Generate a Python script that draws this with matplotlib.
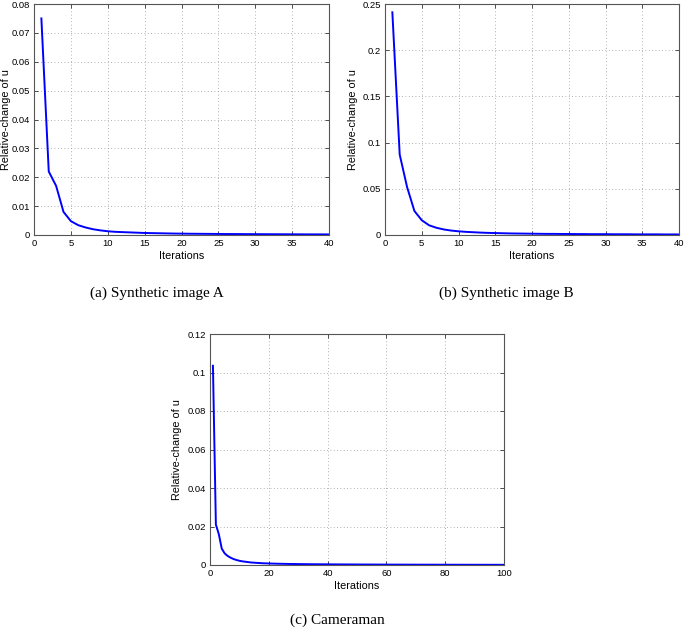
import matplotlib.pyplot as plt

# relative change of u per iteration
iters_a = list(range(1, 41))
change_a = [0.075, 0.022, 0.017, 0.0080, 0.0048, 0.0034, 0.0026, 0.0020, 0.0016, 0.0013,
            0.0011, 0.0010, 0.0009, 0.0008, 0.0007, 0.00065, 0.0006, 0.00055, 0.0005, 0.00047,
            0.00044, 0.00042, 0.0004, 0.00038, 0.00036, 0.00034, 0.00033, 0.00032, 0.0003, 0.00029,
            0.00028, 0.00027, 0.00026, 0.00025, 0.00024, 0.00023, 0.00022, 0.00022, 0.00021, 0.0002]

iters_b = list(range(1, 41))
change_b = [0.241, 0.087, 0.052, 0.026, 0.016, 0.0105, 0.0078, 0.0060, 0.0048, 0.0040,
            0.0034, 0.0030, 0.0026, 0.0023, 0.0021, 0.0019, 0.0017, 0.0016, 0.0015, 0.0014,
            0.0013, 0.0012, 0.0012, 0.0011, 0.0011, 0.0010, 0.0010, 0.0009, 0.0009, 0.0009,
            0.0008, 0.0008, 0.0008, 0.0007, 0.0007, 0.0007, 0.0007, 0.0006, 0.0006, 0.0006]

iters_c = list(range(1, 101))
change_c = [0.1035, 0.021, 0.016, 0.0085, 0.0060, 0.0047, 0.0038, 0.0031, 0.0026, 0.0022,
            0.0019, 0.0017, 0.0015, 0.0013, 0.0012, 0.0011, 0.0010, 0.0009, 0.00085, 0.0008,
            0.00075, 0.0007, 0.00066, 0.00063, 0.0006, 0.00057, 0.00054, 0.00052, 0.0005, 0.00048,
            0.00046, 0.00044, 0.00043, 0.00041, 0.0004, 0.00039, 0.00038, 0.00037, 0.00036, 0.00035,
            0.00034, 0.00033, 0.00032, 0.00031, 0.0003, 0.0003, 0.00029, 0.00028, 0.00028, 0.00027,
            0.00026, 0.00026, 0.00025, 0.00025, 0.00024, 0.00024, 0.00023, 0.00023, 0.00022, 0.00022,
            0.00021, 0.00021, 0.0002, 0.0002, 0.0002, 0.00019, 0.00019, 0.00018, 0.00018, 0.00018,
            0.00017, 0.00017, 0.00017, 0.00016, 0.00016, 0.00016, 0.00015, 0.00015, 0.00015, 0.00015,
            0.00014, 0.00014, 0.00014, 0.00014, 0.00013, 0.00013, 0.00013, 0.00013, 0.00012, 0.00012,
            0.00012, 0.00012, 0.00012, 0.00011, 0.00011, 0.00011, 0.00011, 0.00011, 0.0001, 0.0001]

W, H = 685, 629

# (data, axes box in pixels [left, top, right, bottom], limits, ticks, caption, caption centre px, ylabel x)
panels = [
    (iters_a, change_a, (34, 4, 329, 235), (0, 40), (0, 0.08),
     [0, 5, 10, 15, 20, 25, 30, 35, 40], [0, 0.01, 0.02, 0.03, 0.04, 0.05, 0.06, 0.07, 0.08],
     ["0", "0.01", "0.02", "0.03", "0.04", "0.05", "0.06", "0.07", "0.08"],
     "(a) Synthetic image A", (157, 293), -0.077),
    (iters_b, change_b, (385, 4, 679, 235), (0, 40), (0, 0.25),
     [0, 5, 10, 15, 20, 25, 30, 35, 40], [0, 0.05, 0.1, 0.15, 0.2, 0.25],
     ["0", "0.05", "0.1", "0.15", "0.2", "0.25"],
     "(b) Synthetic image B", (506, 293), -0.092),
    (iters_c, change_c, (210, 334, 504, 565), (0, 100), (0, 0.12),
     [0, 20, 40, 60, 80, 100], [0, 0.02, 0.04, 0.06, 0.08, 0.1, 0.12],
     ["0", "0.02", "0.04", "0.06", "0.08", "0.1", "0.12"],
     "(c) Cameraman", (337, 620), -0.095),
]

plt.rcParams['font.family'] = ['Liberation Sans', 'DejaVu Sans']
fig = plt.figure(figsize=(W / 100, H / 100), dpi=100)

for x, y, box, xlim, ylim, xt, yt, ytl, caption, cap_xy, ylab_x in panels:
    l, t, r, b = box
    ax = fig.add_axes([l / W, 1 - b / H, (r - l) / W, (b - t) / H])
    ax.plot(x, y, color='#0000ff', linewidth=1.4)
    ax.set_xlim(*xlim)
    ax.set_ylim(*ylim)
    ax.set_xticks(xt)
    ax.set_xticklabels([str(v) for v in xt])
    ax.set_yticks(yt)
    ax.set_yticklabels(ytl)
    ax.tick_params(direction='in', length=3, width=0.6, labelsize=6.8, pad=3,
                   top=True, right=True, color='#333333')
    ax.grid(True, linestyle=(0, (1, 3)), color='#999999', linewidth=0.6)
    for sp in ax.spines.values():
        sp.set_color('#555555')
        sp.set_linewidth(0.8)
    ax.set_xlabel("Iterations", fontsize=7.8, labelpad=2)
    ax.set_ylabel("Relative-change of u", fontsize=7.8)
    ax.yaxis.set_label_coords(ylab_x, 0.5)
    fig.text(cap_xy[0] / W, 1 - cap_xy[1] / H, caption, ha='center', va='center',
             fontsize=11, family='Liberation Serif')

fig.savefig("out.png", dpi=100)
